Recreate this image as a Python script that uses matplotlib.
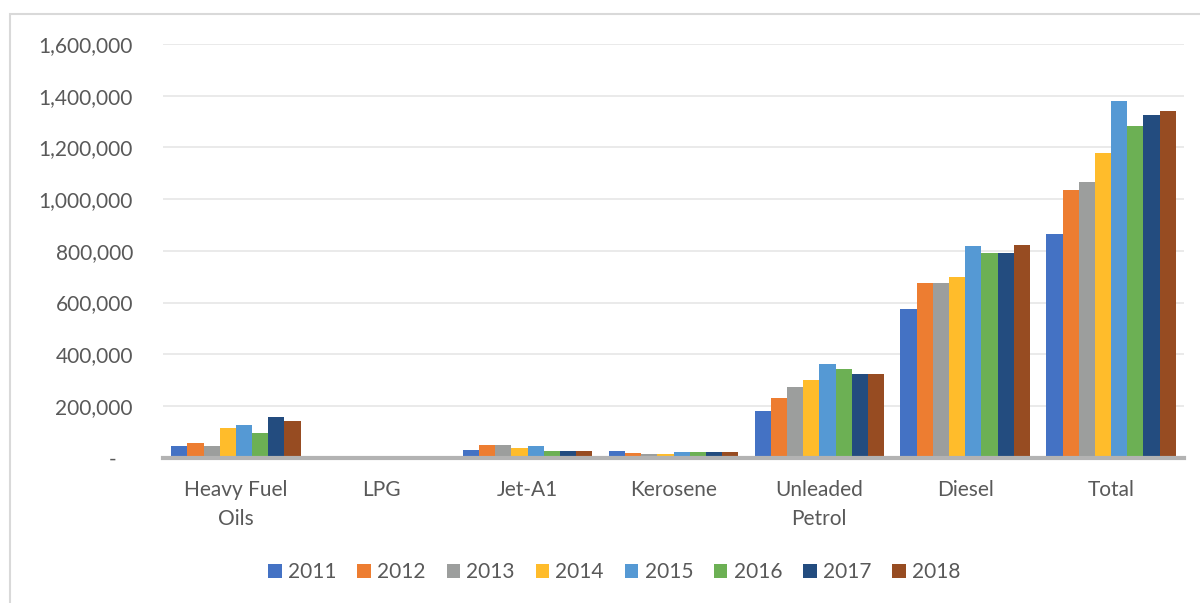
import matplotlib
matplotlib.use("Agg")
import matplotlib.pyplot as plt
from matplotlib.patches import Rectangle
from matplotlib.ticker import FuncFormatter
import numpy as np

categorias = ["Heavy Fuel\nOils", "LPG", "Jet-A1", "Kerosene", "Unleaded\nPetrol", "Diesel", "Total"]
anios = ["2011", "2012", "2013", "2014", "2015", "2016", "2017", "2018"]

# valores por año, en el orden de las categorías
v2011 = [44000, 1500, 29000, 26000, 180000, 575000, 865000]
v2012 = [56000, 1500, 48000, 18000, 231000, 675000, 1035000]
v2013 = [44000, 1500, 48000, 14000, 273000, 675000, 1065000]
v2014 = [114000, 1500, 37000, 14000, 300000, 698000, 1177000]
v2015 = [126000, 1500, 44000, 22000, 362000, 818000, 1378000]
v2016 = [95000, 1500, 25000, 22000, 343000, 791000, 1282000]
v2017 = [157000, 1500, 25000, 22000, 323000, 791000, 1324000]
v2018 = [141000, 1500, 25000, 22000, 323000, 822000, 1339000]
series = [v2011, v2012, v2013, v2014, v2015, v2016, v2017, v2018]

colores = ["#4472C4", "#ED7D31", "#9C9E9D", "#FFBC2B", "#5599D4", "#6CB054", "#234C7F", "#974C22"]

plt.rcParams['font.family'] = ['Lato', 'DejaVu Sans']

fig = plt.figure(figsize=(12, 6.03), dpi=100)
# borde del gráfico
fig.patches.append(Rectangle((10/1200, -0.1), 1.2, 1 - 14/603 + 0.1, transform=fig.transFigure,
                             fill=False, edgecolor="#D9D9D9", linewidth=1.5))

ax = fig.add_axes([163/1200, 1 - 457.7/603, (1184 - 163)/1200, (457.7 - 44)/603])

x = np.arange(len(categorias))
ancho = 0.111
for i, (anio, vals) in enumerate(zip(anios, series)):
    ax.bar(x + (i - 3.5) * ancho, vals, width=ancho, color=colores[i], label=anio, zorder=2)

ax.set_xlim(-0.5, len(categorias) - 0.5)
ax.set_ylim(0, 1600000)
ax.set_yticks(np.arange(0, 1600001, 200000))
ax.yaxis.set_major_formatter(FuncFormatter(lambda v, p: "-   " if v == 0 else f"{v:,.0f}"))
ax.set_xticks(x)
ax.set_xticklabels(categorias, linespacing=1.55)

ax.grid(axis='y', color="#E6E6E6", linewidth=1.2, zorder=0)
for s in ["top", "right", "left"]:
    ax.spines[s].set_visible(False)
ax.spines["bottom"].set_color("#B3B3B3")
ax.spines["bottom"].set_linewidth(3)
ax.spines["bottom"].set_zorder(3)
ax.tick_params(axis='both', length=0, labelsize=15, labelcolor="#595959")
ax.tick_params(axis='y', pad=21.6)
ax.tick_params(axis='x', pad=16)

ax.legend(loc='center', bbox_to_anchor=(0.5 - 0.058, 1 - (572 - 44)/(457.7 - 44)), ncol=8, frameon=False,
          fontsize=15, handlelength=0.65, handleheight=0.65, handletextpad=0.3, columnspacing=1.0,
          labelcolor="#595959")

fig.savefig("out.png", dpi=100)
